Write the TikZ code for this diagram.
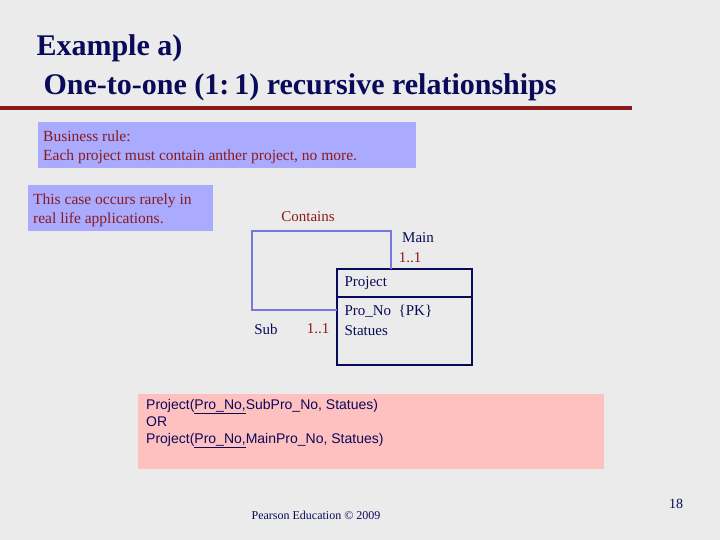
\documentclass[tikz,border=0pt]{standalone}
\usepackage{fontspec}
\setmainfont{Liberation Serif}
\setsansfont{Liberation Sans}
\definecolor{bgray}{HTML}{EBEBEB}
\definecolor{dred}{HTML}{8B1A1A}
\definecolor{lblue}{HTML}{AAAAFF}
\definecolor{lpink}{HTML}{FFC0C0}
\definecolor{navy}{HTML}{0A0A5A}
\definecolor{lineblue}{HTML}{7777DD}
\tikzset{
  note/.style={text=dred,font=\fontsize{15.5}{19}\selectfont,align=left,anchor=north west,inner sep=5pt},
  lbl/.style={font=\fontsize{15}{16}\selectfont},
  attr/.style={font=\fontsize{15}{20}\selectfont,text=navy,anchor=west}
}
\begin{document}
\begin{tikzpicture}[x=1pt,y=-1pt]
\fill[bgray] (0,0) rectangle (720,540);
\useasboundingbox (0,0) rectangle (720,540);
% title
\node[anchor=west,font=\bfseries\fontsize{30}{34}\selectfont,text=navy] (title1) at (33,48) {Example a)};
\node[anchor=west,font=\bfseries\fontsize{30}{34}\selectfont,text=navy] (title2) at (40,87) {One-to-one (1:\,1) recursive relationships};
\fill[dred] (0,106) rectangle (632,110);
% notes
\fill[lblue] (38,122) rectangle (416,168);
\node[note] (rule) at (38,126) {Business rule:\\Each project must contain anther project, no more.};
\fill[lblue] (28,185) rectangle (213,231);
\node[note] (rare) at (28,189) {This case occurs rarely in\\real life applications.};
% entity
\draw[navy,line width=2pt] (337,269) rectangle (472,365);
\draw[navy,line width=2pt] (337,297) -- (472,297);
\coordinate (top) at (391,269);
\coordinate (side) at (337,310);
\node[attr] (ename) at (341,283) {Project};
\node[attr] (pk) at (341,311) {Pro\_No\ \ \{PK\}};
\node[attr] (st) at (341,331) {Statues};
% recursive link
\draw[lineblue,line width=1.5pt] (top) -- (391,231) -- (252,231) -- (252,310) -- (side);
\node[lbl,text=dred] (contains) at (308,217) {Contains};
\node[lbl,text=navy] (main) at (418,238) {Main};
\node[lbl,text=dred] (m11) at (410,258) {1..1};
\node[lbl,text=navy] (sub) at (266,329) {Sub};
\node[lbl,text=dred] (s11) at (318,329) {1..1};
% relation schema
\fill[lpink] (138,394) rectangle (604,469);
\node[anchor=north west,align=left,font=\sffamily\fontsize{14}{17}\selectfont,text=navy,inner sep=0pt] (schema) at (146,399)
  {Project(\underline{Pro\_No,}SubPro\_No, Statues)\\OR\\Project(\underline{Pro\_No,}MainPro\_No, Statues)};
% footer
\node[font=\fontsize{12}{14}\selectfont,text=navy] (foot) at (316,515) {Pearson Education \textcopyright{} 2009};
\node[font=\fontsize{14}{16}\selectfont,text=navy] (page) at (676,504) {18};
\end{tikzpicture}
\end{document}
